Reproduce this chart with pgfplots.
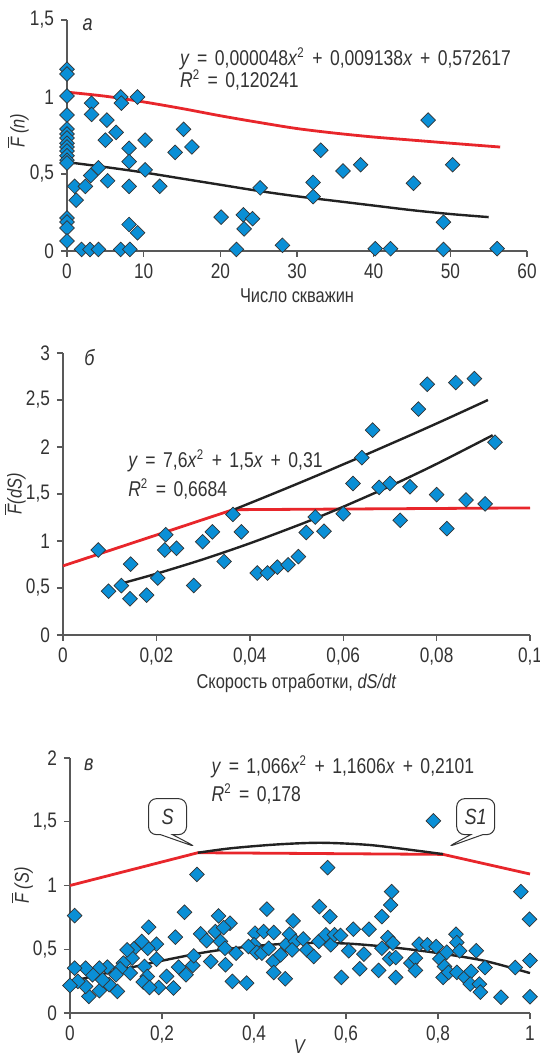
\documentclass[border=0pt]{standalone}
\usepackage{fontspec}
\setmainfont{Liberation Sans}[FakeStretch=0.82]
\usepackage{pgfplots}
\pgfplotsset{compat=1.18}
\usetikzlibrary{shapes.callouts}

\definecolor{mblue}{HTML}{0A8FD6}
\definecolor{mred}{HTML}{E8262B}
\definecolor{mline}{HTML}{222222}
\definecolor{txt}{HTML}{333333}

\newcommand{\op}[1]{\hspace{0.35em}#1\hspace{0.35em}}
\newcommand{\sq}{\textsuperscript{\fontsize{7}{8}\selectfont 2}}
\newcommand{\Fbar}{$\overline{\mbox{\textit{F}}}$}

\tikzset{
  eq/.style={anchor=west, font=\fontsize{10.7}{13}\selectfont, text=txt, inner sep=0pt},
  callout/.style={rectangle callout, draw=black!80, fill=white, rounded corners=4pt, line width=0.5pt,
    minimum width=19pt, minimum height=18pt, callout pointer width=6pt,
    font=\itshape\fontsize{11}{12}\selectfont, text=txt},
}

\pgfplotsset{
  panel/.style={
    scale only axis,
    axis lines*=left,
    axis line style={line width=0.7pt, color=black!65},
    tick style={line width=0.7pt, color=black!65},
    tick align=outside,
    major tick length=3pt,
    enlargelimits=false,
    clip=false,
    scaled ticks=false,
    /pgf/number format/use comma,
    /pgf/number format/assume math mode=true,
    tick label style={font=\fontsize{10.5}{12}\selectfont, text=txt},
    label style={font=\fontsize{10}{12}\selectfont, text=txt},
  },
  pts/.style={only marks, mark=square*, mark size=2.6pt,
    mark options={rotate=45, fill=mblue, draw=black!80, line width=0.35pt}},
  redl/.style={mred, line width=1.4pt, no marks},
  blkl/.style={mline, line width=1.2pt, no marks, smooth},
}

\begin{document}
\begin{tikzpicture}
\path[use as bounding box] (0,0) rectangle (270pt,529.5pt);

% panel a
\begin{axis}[panel, at={(33.5pt,404pt)}, anchor=south west,
  width=230pt, height=115.5pt,
  xmin=0, xmax=60, ymin=0, ymax=1.5,
  xtick={0,10,...,60}, ytick={0,0.5,1,1.5},
  yticklabels={0,{0,5},1,{1,5}},
  xlabel={Число скважин},
  ylabel={\Fbar\,\textit{(n)}},
  xlabel style={at={(axis description cs:0.5,-0.195)}, anchor=center},
  ylabel style={at={(axis description cs:-0.107,0.52)}, anchor=center},
]
\addplot[redl, smooth] coordinates {(0.3,1.03) (5,1.005) (10,0.968) (15,0.925) (20,0.878) (25,0.835) (30,0.795) (35,0.765) (40,0.74) (45,0.72) (50,0.70) (56.5,0.675)};
\addplot[blkl] coordinates {(0.3,0.575) (5,0.545) (10,0.51) (15,0.47) (20,0.43) (25,0.39) (30,0.355) (35,0.325) (40,0.295) (45,0.265) (50,0.24) (55,0.22)};
\addplot[pts] coordinates {
(0,1.18)(0,1.149)(0,1.006)(0,0.883)(0,0.792)(0,0.76)(0,0.734)(0,0.70)(0,0.675)(0,0.649)(0,0.619)(0,0.59)(0,0.571)(0,0.214)(0,0.188)(0,0.149)(0,0.065)
(1.0,0.42)(1.2,0.33)(1.9,0.01)(2.4,0.42)(3.0,0.01)(3.1,0.49)(3.2,0.96)(3.2,0.887)(4.1,0.54)(4.1,0.01)(5.0,0.72)(5.2,0.85)(5.3,0.456)(6.4,0.77)(7.0,1.0)(7.1,0.96)(7.0,0.01)(8.1,0.667)(8.1,0.58)(8.1,0.42)(8.1,0.172)(8.2,0.01)(9.2,1.0)(9.2,0.118)(10.2,0.72)(10.2,0.527)(12.1,0.42)(14.1,0.64)(15.2,0.79)(16.3,0.676)(20.1,0.22)(22.1,0.01)(23.0,0.235)(23.1,0.144)(24.2,0.21)(25.2,0.41)(28.1,0.037)(32.1,0.445)(32.1,0.353)(33.1,0.654)(36.0,0.52)(38.3,0.56)(40.2,0.015)(42.2,0.015)(45.2,0.44)(47.1,0.85)(49.1,0.187)(49.1,0.01)(50.3,0.56)(56.1,0.015)
};
\node[eq, font=\itshape\fontsize{11}{12}\selectfont] at (axis cs:2.0,1.47) {а};
\node[eq] at (axis cs:14.7,1.25) {\textit{y}\op{=}0,000048\textit{x}\sq\op{+}0,009138\textit{x}\op{+}0,572617};
\node[eq] at (axis cs:14.7,1.11) {\textit{R}\sq\op{=}0,120241};
\end{axis}

% panel b
\begin{axis}[panel, at={(31.5pt,212pt)}, anchor=south west,
  width=233.5pt, height=141pt,
  xmin=0, xmax=0.1, ymin=0, ymax=3,
  xtick={0,0.02,0.04,0.06,0.08,0.1}, ytick={0,0.5,1,1.5,2,2.5,3},
  xticklabels={0,{0,02},{0,04},{0,06},{0,08},{0,1}},
  yticklabels={0,{0,5},1,{1,5},2,{2,5},3},
  xlabel={Скорость отработки, \textit{dS/dt}},
  ylabel={\Fbar\textit{(dS)}},
  xlabel style={at={(axis description cs:0.5,-0.17)}, anchor=center},
  ylabel style={at={(axis description cs:-0.103,0.5)}, anchor=center},
]
\addplot[redl] coordinates {(0,0.735) (0.0364,1.333) (0.1,1.352)};
\addplot[blkl] coordinates {(0.0364,1.33) (0.04,1.402) (0.045,1.503) (0.05,1.605) (0.055,1.709) (0.06,1.815) (0.064,1.90) (0.07,2.03) (0.075,2.139) (0.08,2.25) (0.085,2.363) (0.091,2.50)};
\addplot[blkl] coordinates {(0.013,0.555) (0.02,0.652) (0.03,0.805) (0.04,0.975) (0.05,1.161) (0.055,1.26) (0.06,1.364) (0.07,1.583) (0.08,1.82) (0.092,2.125)};
\addplot[pts] coordinates {
(0.00754,0.904)(0.00976,0.466)(0.0125,0.526)(0.01435,0.386)(0.0145,0.754)(0.0179,0.424)(0.0203,0.606)(0.022,1.066)(0.0218,0.904)(0.0243,0.922)(0.028,0.526)(0.0299,0.992)(0.032,1.097)(0.0345,0.782)(0.0364,1.283)(0.0382,1.097)(0.0416,0.659)(0.0438,0.659)(0.0459,0.722)(0.0482,0.747)(0.0504,0.834)(0.0521,1.09)(0.054,1.255)(0.0559,1.104)(0.06,1.29)(0.0621,1.612)(0.064,1.886)(0.0663,2.18)(0.0677,1.57)(0.07,1.612)(0.0722,1.22)(0.0743,1.577)(0.0761,2.404)(0.078,2.667)(0.08,1.493)(0.0822,1.132)(0.0841,2.685)(0.0863,1.437)(0.0881,2.727)(0.0904,1.395)(0.0925,2.05)
};
\node[eq, font=\itshape\fontsize{11}{12}\selectfont] at (axis cs:0.0045,2.95) {б};
\node[eq] at (axis cs:0.0139,1.85) {\textit{y}\op{=}7,6\textit{x}\sq\op{+}1,5\textit{x}\op{+}0,31};
\node[eq] at (axis cs:0.0139,1.55) {\textit{R}\sq\op{=}0,6684};
\end{axis}

% panel c
\begin{axis}[panel, at={(35pt,23pt)}, anchor=south west,
  width=230pt, height=127.5pt,
  xmin=0, xmax=1, ymin=0, ymax=2,
  xtick={0,0.2,0.4,0.6,0.8,1}, ytick={0,0.5,1,1.5,2},
  xticklabels={0,{0,2},{0,4},{0,6},{0,8},1},
  yticklabels={0,{0,5},1,{1,5},2},
  xlabel={\textit{V}},
  ylabel={\Fbar\,\textit{(S)}},
  xlabel style={at={(axis description cs:0.5,-0.133)}, anchor=center},
  ylabel style={at={(axis description cs:-0.104,0.5)}, anchor=center},
]
\addplot[redl] coordinates {(0,1.0) (0.278,1.257) (0.811,1.244) (1.0,1.09)};
\addplot[blkl] coordinates {(0.278,1.257) (0.35,1.292) (0.45,1.322) (0.545,1.335) (0.65,1.318) (0.75,1.275) (0.811,1.246)};
\addplot[blkl] coordinates {(0.005,0.25) (0.1,0.33) (0.2,0.41) (0.3,0.48) (0.4,0.525) (0.5,0.548) (0.6,0.545) (0.7,0.515) (0.8,0.47) (0.9,0.41) (1.0,0.313)};
\addplot[pts] coordinates {
(0.01,0.764)(0.276,1.087)(0.790,1.507)(0.560,1.14)(0.980,0.952)(0.999,0.735)(1.0,0.412)(1.0,0.128)(0.937,0.123)(0.968,0.357)
(0.699,0.952)(0.697,0.847)(0.678,0.756)(0.542,0.834)(0.565,0.756)(0.428,0.814)(0.485,0.722)(0.249,0.79)(0.171,0.673)(0.229,0.595)
(0.323,0.761)(0.348,0.704)(0.284,0.621)(0.297,0.568)(0.316,0.639)(0.334,0.670)(0.327,0.561)(0.337,0.508)(0.361,0.469)(0.338,0.378)
(0.353,0.248)(0.384,0.235)(0.306,0.404)(0.267,0.373)(0.269,0.448)(0.236,0.36)(0.252,0.30)(0.225,0.196)(0.210,0.287)(0.193,0.20)
(0.188,0.422)(0.188,0.540)(0.169,0.508)(0.156,0.561)(0.162,0.365)(0.168,0.287)(0.159,0.243)(0.173,0.20)(0.139,0.503)(0.135,0.430)
(0.124,0.495)(0.116,0.391)(0.131,0.313)(0.109,0.347)(0.10,0.30)(0.103,0.169)(0.085,0.222)(0.081,0.36)(0.064,0.352)(0.064,0.175)
(0.049,0.30)(0.041,0.13)(0.034,0.352)(0.034,0.209)(0.017,0.248)(0.01,0.352)(0.0,0.216)(0.071,0.26)
(0.402,0.626)(0.400,0.535)(0.388,0.521)(0.406,0.474)(0.421,0.639)(0.417,0.469)(0.432,0.508)(0.443,0.631)(0.442,0.404)(0.443,0.318)
(0.468,0.269)(0.458,0.456)(0.470,0.535)(0.477,0.618)(0.490,0.561)(0.483,0.495)(0.507,0.581)(0.515,0.495)(0.530,0.443)(0.541,0.561)
(0.556,0.613)(0.567,0.535)(0.575,0.613)(0.588,0.608)(0.590,0.279)(0.606,0.488)(0.616,0.657)(0.630,0.347)(0.639,0.462)(0.650,0.657)
(0.671,0.334)(0.678,0.508)(0.691,0.592)(0.702,0.548)(0.695,0.425)(0.708,0.435)(0.708,0.279)(0.741,0.391)(0.751,0.430)(0.751,0.334)
(0.759,0.54)(0.777,0.535)(0.796,0.521)(0.804,0.425)(0.814,0.365)(0.819,0.477)(0.811,0.279)(0.823,0.318)(0.839,0.618)(0.841,0.553)
(0.847,0.488)(0.841,0.318)(0.859,0.279)(0.872,0.326)(0.870,0.227)(0.883,0.488)(0.890,0.227)(0.892,0.164)(0.902,0.357)
};
\node[eq, font=\itshape\fontsize{11}{12}\selectfont] at (axis cs:0.03,1.95) {в};
\node[eq] at (axis cs:0.307,1.93) {\textit{y}\op{=}1,066\textit{x}\sq\op{+}1,1606\textit{x}\op{+}0,2101};
\node[eq] at (axis cs:0.307,1.72) {\textit{R}\sq\op{=}0,178};
\node[callout, callout absolute pointer={(axis cs:0.275,1.30)}] at (axis cs:0.212,1.54) {S};
\node[callout, callout absolute pointer={(axis cs:0.820,1.30)}] at (axis cs:0.882,1.54) {S1};
\end{axis}
\end{tikzpicture}
\end{document}
